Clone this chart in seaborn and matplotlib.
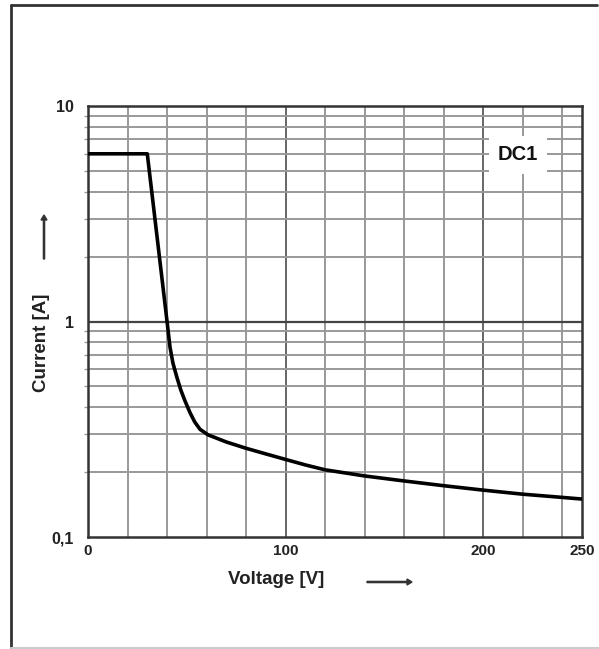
import numpy as np
import pandas as pd
import matplotlib.pyplot as plt
import seaborn as sns
from matplotlib.lines import Line2D
from matplotlib.patches import FancyArrow
from matplotlib.ticker import FixedLocator, NullFormatter

# Kennlinie DC1
voltage = [0, 30, 40, 41.5, 43, 45, 47, 49, 51.6, 54, 56.7, 60.7, 70, 80, 90, 100,
           110, 120, 140, 160, 180, 200, 220, 235, 250]
current = [6.0, 6.0, 1.0, 0.76, 0.64, 0.55, 0.48, 0.43, 0.378, 0.342, 0.316, 0.298,
           0.276, 0.258, 0.243, 0.229, 0.216, 0.205, 0.192, 0.182, 0.173,
           0.165, 0.158, 0.154, 0.150]

x_ticks = [0, 100, 200, 250]
x_ticklabels = ['0', '100', '200', '250']
y_ticks = [0.1, 1, 10]
y_ticklabels = ['0,1', '1', '10']
series_label = 'DC1'

df = pd.DataFrame({'Voltage': voltage, 'Current': current})

sns.set_style('white')
plt.rcParams['font.family'] = ['Liberation Sans', 'DejaVu Sans']

W, H = 599, 649
fig = plt.figure(figsize=(W / 100, H / 100), dpi=100)
ax = fig.add_axes([88 / W, 1 - 537 / H, (582 - 88) / W, (537 - 106) / H])

# Gitter
minor_y = [m * 10.0 ** e for e in (-1, 0) for m in range(2, 10)]
for v in range(20, 250, 20):
    c = '#666666' if v in (100, 200) else '#999999'
    ax.axvline(v, color=c, lw=1.4, zorder=1)
for y in minor_y:
    ax.axhline(y, color='#999999', lw=1.4, zorder=1)
ax.axhline(1, color='#444444', lw=1.6, zorder=1)

sns.lineplot(data=df, x='Voltage', y='Current', ax=ax, color='black', lw=2.6,
             zorder=3, sort=False)

ax.set_yscale('log')
ax.set_xlim(0, 250)
ax.set_ylim(0.1, 10)
ax.set_xlabel('')
ax.set_ylabel('')

ax.set_xticks(x_ticks)
ax.set_xticklabels(x_ticklabels, fontsize=11, fontweight='bold')
ax.set_yticks(y_ticks)
ax.set_yticklabels(y_ticklabels, fontsize=11.5, fontweight='bold')
ax.yaxis.set_minor_locator(FixedLocator(minor_y))
ax.yaxis.set_minor_formatter(NullFormatter())
ax.tick_params(axis='x', length=0, pad=5, colors='#222222')
ax.tick_params(axis='y', which='major', length=8, width=1.2, color='#555555', pad=2,
               labelcolor='#222222')
ax.tick_params(axis='y', which='minor', length=3, width=1.0, color='#999999', left=True)

for s in ax.spines.values():
    s.set_color('#333333')
    s.set_linewidth(1.8)

# Kennzeichnung
fig.text(518 / W, 1 - 155 / H, series_label, ha='center', va='center',
         fontsize=14.5, fontweight='bold', color='#111111',
         bbox=dict(facecolor='white', edgecolor='none', boxstyle='square,pad=0.45'))

# Achsenbeschriftungen mit Pfeilen
fig.text(276 / W, 1 - 580 / H, 'Voltage [V]', ha='center', va='center',
         fontsize=13.5, fontweight='bold', color='#222222')
fig.text(42 / W, 1 - 343 / H, 'Current [A]', ha='center', va='center',
         rotation=90, fontsize=13.5, fontweight='bold', color='#222222')
fig.patches.append(FancyArrow(
    367 / W, 1 - 582 / H, 45 / W, 0, width=1.2 / H, head_width=6 / H,
    head_length=5 / W, length_includes_head=True, color='#333333',
    transform=fig.transFigure, figure=fig))
fig.patches.append(FancyArrow(
    44 / W, 1 - 259 / H, 0, 44 / H, width=1.2 / W, head_width=6 / W,
    head_length=5 / H, length_includes_head=True, color='#333333',
    transform=fig.transFigure, figure=fig))

# Rahmen
fig.lines.append(Line2D([11 / W, 11 / W], [0, 1 - 5 / H], transform=fig.transFigure,
                        color='#333333', lw=2))
fig.lines.append(Line2D([11 / W, 597 / W], [1 - 5 / H, 1 - 5 / H], transform=fig.transFigure,
                        color='#333333', lw=2))
fig.lines.append(Line2D([11 / W, 1], [1 - 648 / H, 1 - 648 / H], transform=fig.transFigure,
                        color='#cccccc', lw=1.5))

fig.savefig('out.png', dpi=100)
